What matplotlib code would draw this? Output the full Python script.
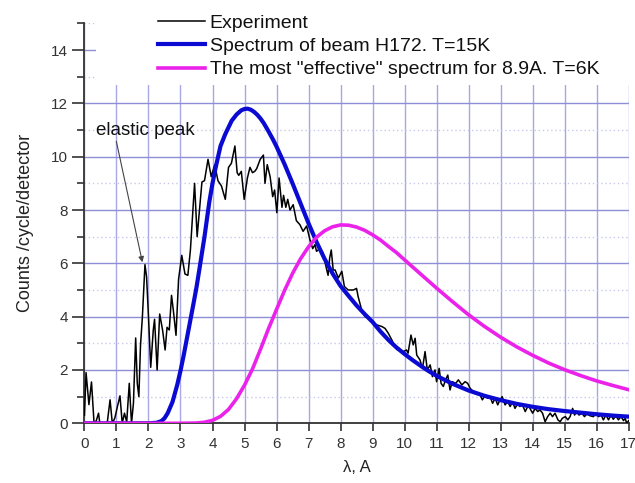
import matplotlib
matplotlib.use('Agg')
import matplotlib.pyplot as plt
from matplotlib.patches import Rectangle
from matplotlib.ticker import MultipleLocator

plt.rcParams['font.family'] = ['Liberation Sans', 'DejaVu Sans']

# measured spectrum (counts per cycle per detector)
exp_x = [0.00, 0.05, 0.14, 0.22, 0.30, 0.37, 0.44, 0.48, 0.60, 0.71, 0.80, 0.87,
         0.95, 1.03, 1.11, 1.18, 1.25, 1.32, 1.40, 1.47, 1.53, 1.60, 1.65, 1.70,
         1.75, 1.81, 1.89, 1.94, 2.00, 2.07, 2.15, 2.19, 2.27, 2.35, 2.44, 2.52,
         2.58, 2.65, 2.72, 2.78, 2.86, 2.94, 3.04, 3.14, 3.23, 3.31, 3.44, 3.52,
         3.60, 3.67, 3.75, 3.86, 3.96, 4.07, 4.17, 4.28, 4.40, 4.50, 4.59, 4.70,
         4.77, 4.82, 4.90, 4.99, 5.09, 5.17, 5.25, 5.32, 5.38, 5.49, 5.59, 5.64,
         5.71, 5.80, 5.88, 5.94, 6.01, 6.08, 6.17, 6.22, 6.29, 6.35, 6.42, 6.52,
         6.62, 6.73, 6.83, 6.94, 7.04, 7.13, 7.20, 7.25, 7.35, 7.45, 7.56, 7.61,
         7.66, 7.71, 7.77, 7.83, 7.93, 8.04, 8.12, 8.24, 8.40, 8.50, 8.55, 8.66,
         8.77, 8.87, 8.97, 9.13, 9.29, 9.39, 9.49, 9.60, 9.70, 9.78, 9.83, 9.88,
         9.96, 10.06, 10.11, 10.20, 10.27, 10.33, 10.38, 10.48, 10.56, 10.64, 10.71,
         10.80, 10.87, 10.95, 11.00, 11.08, 11.14, 11.21, 11.28, 11.35, 11.42,
         11.49, 11.60, 11.68, 11.79, 11.89, 11.97, 12.05, 12.15, 12.25, 12.36,
         12.43, 12.52, 12.59, 12.67, 12.75, 12.83, 12.91, 12.98, 13.05, 13.14,
         13.22, 13.30, 13.37, 13.45, 13.54, 13.60, 13.67, 13.77, 13.87, 13.93,
         14.00, 14.08, 14.16, 14.23, 14.31, 14.39, 14.47, 14.55, 14.62, 14.70,
         14.79, 14.86, 14.93, 15.02, 15.10, 15.17, 15.25, 15.31, 15.38, 15.45,
         15.54, 15.62, 15.69, 15.80, 15.90, 15.97, 16.06, 16.14, 16.21, 16.29,
         16.37, 16.45, 16.52, 16.60, 16.68, 16.76, 16.84, 16.89, 16.94, 17.00]
exp_y = [0.3, 1.9, 0.7, 1.55, 0.0, 0.1, 0.38, 0.0, 0.0, 0.0, 0.88, 0.0,
         0.2, 0.63, 1.03, 0.0, 0.38, 0.05, 1.5, 0.0, 0.75, 3.2, 1.5, 1.0,
         2.9, 4.0, 5.95, 5.5, 4.0, 2.1, 3.5, 3.9, 2.0, 4.1, 3.5, 2.75,
         3.6, 3.5, 4.8, 4.2, 3.3, 5.4, 6.3, 5.6, 5.55, 6.5, 9.0, 7.0,
         8.1, 9.05, 9.1, 9.9, 9.25, 9.7, 9.1, 8.9, 8.4, 9.6, 9.75, 10.4,
         9.4, 9.3, 9.45, 8.4, 9.2, 9.6, 9.4, 9.45, 9.55, 9.9, 10.06, 9.0,
         9.7, 9.25, 8.5, 8.75, 7.9, 9.2, 8.1, 8.55, 8.1, 8.4, 8.0, 8.2,
         7.6, 7.45, 7.2, 7.4, 6.9, 6.55, 6.7, 6.45, 6.55, 6.4, 5.8, 5.55,
         6.2, 6.5, 5.75, 5.75, 5.45, 5.7, 5.13, 5.0, 5.0, 5.06, 4.75, 4.25,
         4.0, 3.94, 3.81, 3.69, 3.63, 3.56, 3.38, 3.13, 2.88, 2.75, 2.81, 2.69,
         2.69, 2.75, 2.63, 3.31, 2.94, 3.19, 2.56, 2.38, 2.06, 2.69, 2.0,
         2.19, 1.75, 2.0, 1.56, 2.06, 1.5, 1.38, 1.63, 1.81, 1.25,
         1.56, 1.5, 1.63, 1.44, 1.56, 1.5, 1.31, 1.19, 1.13, 1.06,
         0.88, 1.06, 0.94, 1.0, 0.75, 0.94, 0.69, 0.88, 1.0, 0.69,
         0.81, 0.63, 0.81, 0.56, 0.75, 0.63, 0.72, 0.44, 0.69, 0.53,
         0.38, 0.56, 0.44, 0.5, 0.38, 0.06, 0.25, 0.38, 0.25, 0.38,
         0.13, 0.06, 0.19, 0.25, 0.13, 0.25, 0.56, 0.31, 0.44, 0.31,
         0.38, 0.25, 0.35, 0.28, 0.25, 0.38, 0.25, 0.31, 0.13, 0.31,
         0.13, 0.31, 0.15, 0.28, 0.13, 0.25, 0.1, 0.19, 0.0, 0.1]

# beam H172 spectrum, T=15K
beam_x = [0, 1, 2.0, 2.25, 2.4, 2.5, 2.6, 2.75, 2.9, 3.0, 3.1, 3.25, 3.4, 3.5,
          3.6, 3.75, 3.9, 4.0, 4.1, 4.25, 4.4, 4.5, 4.6, 4.75, 4.9, 5.0, 5.1,
          5.2, 5.3, 5.4, 5.5, 5.6, 5.75, 5.9, 6.0, 6.25, 6.5, 6.75, 7.0, 7.25,
          7.5, 7.75, 8.0, 8.25, 8.5, 8.75, 9.0, 9.25, 9.5, 9.75, 10.0, 10.25,
          10.5, 10.75, 11.0, 11.5, 12.0, 12.5, 13.0, 13.5, 14.0, 14.5, 15.0,
          15.5, 16.0, 16.5, 17.0]
beam_y = [0, 0, 0, 0.02, 0.08, 0.19, 0.38, 0.8, 1.45, 1.97, 2.55, 3.5, 4.45, 5.1,
          5.85, 7.0, 8.3, 9.0, 9.6, 10.4, 10.85, 11.1, 11.35, 11.58, 11.74, 11.79, 11.8,
          11.76, 11.68, 11.57, 11.43, 11.26, 10.95, 10.62, 10.38, 9.72, 9.0, 8.25, 7.5, 6.8,
          6.17, 5.62, 5.15, 4.78, 4.42, 4.1, 3.8, 3.44, 3.12, 2.84, 2.6, 2.37,
          2.16, 1.96, 1.78, 1.48, 1.23, 1.03, 0.87, 0.73, 0.62, 0.53, 0.46,
          0.4, 0.34, 0.29, 0.25]

# most effective spectrum for 8.9A, T=6K
eff_x = [0, 3.0, 3.5, 3.75, 4.0, 4.25, 4.5, 4.75, 5.0, 5.25, 5.5, 5.75, 6.0, 6.25,
         6.5, 6.75, 7.0, 7.25, 7.5, 7.75, 8.0, 8.25, 8.5, 8.75, 9.0, 9.25, 9.5,
         9.75, 10.0, 10.5, 11.0, 11.5, 12.0, 12.5, 13.0, 13.5, 14.0, 14.5, 15.0,
         15.5, 16.0, 16.5, 17.0]
eff_y = [0, 0, 0.01, 0.04, 0.11, 0.26, 0.52, 0.92, 1.43, 2.04, 2.78, 3.55, 4.27, 4.98,
         5.62, 6.17, 6.62, 6.98, 7.22, 7.37, 7.44, 7.43, 7.36, 7.24, 7.07, 6.87, 6.63,
         6.4, 6.13, 5.6, 5.07, 4.56, 4.07, 3.63, 3.23, 2.87, 2.55, 2.26, 2.01,
         1.79, 1.59, 1.42, 1.26]

labels = ['Experiment', 'Spectrum of beam H172. T=15K',
          'The most "effective" spectrum for 8.9A. T=6K']

fig = plt.figure(figsize=(6.35, 4.83), dpi=100)
ax = fig.add_axes([0.133, 0.1236, 0.857, 0.828])

ax.plot(exp_x, exp_y, color='black', lw=1.1, label=labels[0], zorder=3)
ax.plot(beam_x, beam_y, color='#0a0ad2', lw=3, label=labels[1], zorder=4)
ax.plot(eff_x, eff_y, color='#ea22ea', lw=2.6, label=labels[2], zorder=4)

ax.set_xlim(0, 17)
ax.set_ylim(0, 15)
ax.xaxis.set_major_locator(MultipleLocator(1))
ax.yaxis.set_major_locator(MultipleLocator(2))
ax.yaxis.set_minor_locator(MultipleLocator(1))

ax.set_axisbelow(True)
ax.grid(True, axis='x', which='major', color='#a8a8e6', lw=1.0)
ax.grid(True, axis='y', which='major', color='#8e8ed6', lw=1.0)
ax.grid(True, axis='y', which='minor', color='#c8c8ec', lw=1.0, ls=(0, (1, 2)))

# keep the legend area clear of the grid
ax.add_patch(Rectangle((0.35, 12.67), 17, 3, facecolor='white', edgecolor='none',
                       zorder=1, clip_on=False))

for side in ('top', 'right'):
    ax.spines[side].set_visible(False)
for side in ('left', 'bottom'):
    ax.spines[side].set_color('#333333')
    ax.spines[side].set_linewidth(1.3)

ax.tick_params(axis='both', which='major', direction='out', colors='#333333',
               labelcolor='#333333', labelsize=11, width=1.2)
ax.tick_params(axis='y', which='major', length=9, pad=3)
ax.tick_params(axis='y', which='minor', length=5, width=1.2, colors='#333333')
ax.tick_params(axis='x', which='major', length=6, pad=4)

ax.set_xlabel('λ, A', fontsize=12, color='#222222', labelpad=6)
ax.set_ylabel('Counts /cycle/detector', fontsize=13, color='#222222', labelpad=12)

ax.annotate('elastic peak', xy=(1.81, 6.04), xytext=(0.36, 11.0),
            fontsize=13.5, color='#111111', va='center', ha='left',
            arrowprops=dict(arrowstyle='-|>', color='#444444', lw=0.8,
                            mutation_scale=8, shrinkA=0, shrinkB=0,
                            relpos=(0.2, 0.0)))

leg = ax.legend(loc='upper left', bbox_to_anchor=(158 / 635, 1 - 14 / 483),
                bbox_transform=fig.transFigure, frameon=False, fontsize=14,
                handlelength=2.4, handletextpad=0.26, labelspacing=0.3,
                borderpad=0, borderaxespad=0)
for t in leg.get_texts():
    t.set_color('#111111')

fig.savefig('out.png', dpi=100)
